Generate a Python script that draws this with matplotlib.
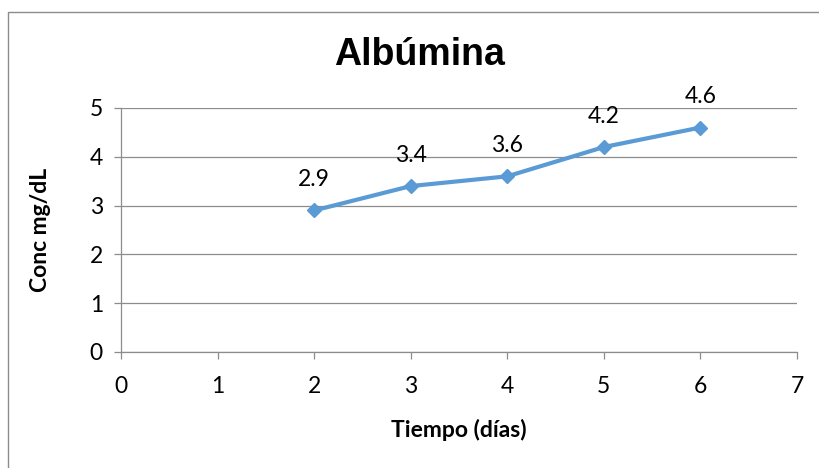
import matplotlib
matplotlib.use("Agg")
import matplotlib.pyplot as plt
from matplotlib.patches import Rectangle

dias = [2, 3, 4, 5, 6]
conc = [2.9, 3.4, 3.6, 4.2, 4.6]
xticks = [0, 1, 2, 3, 4, 5, 6, 7]
yticks = [0, 1, 2, 3, 4, 5]

plt.rcParams['font.family'] = ['Lato', 'DejaVu Sans']

fig = plt.figure(figsize=(8.19, 4.68), dpi=100)
fig.patch.set_facecolor('white')
ax = fig.add_axes([121/819, 1-352/468, (797-121)/819, (352-108)/468])

# outer border
fig.add_artist(Rectangle((8/819, -0.01), 1.0, 1-12/468+0.01, transform=fig.transFigure,
                         fill=False, edgecolor='#8c8c8c', linewidth=1.0))

ax.set_xlim(0, 7)
ax.set_ylim(0, 5)
ax.set_xticks(xticks)
ax.set_yticks(yticks)
ax.grid(axis='y', color='#8c8c8c', linewidth=0.9)
ax.set_axisbelow(True)
for s in ['top', 'right']:
    ax.spines[s].set_visible(False)
for s in ['left', 'bottom']:
    ax.spines[s].set_color('#8c8c8c')
    ax.spines[s].set_linewidth(0.9)
ax.tick_params(axis='both', colors='#8c8c8c', length=5, width=0.9, labelsize=16.5,
               labelcolor='black', direction='out')
ax.tick_params(axis='x', pad=12)
ax.tick_params(axis='y', pad=8)

ax.plot(dias, conc, color='#5b9bd5', linewidth=3, marker='D', markersize=7.5,
        markerfacecolor='#5b9bd5', markeredgecolor='#5b9bd5', clip_on=False, zorder=3)
for x, y in zip(dias, conc):
    ax.annotate(f"{y}", (x, y), textcoords='offset points', xytext=(0, 22),
                ha='center', va='center', fontsize=16.5)

fig.text(420/819, 1-55/468, "Albúmina", ha='center', va='center', fontsize=27,
         fontweight='bold', family=['Liberation Sans', 'DejaVu Sans'])
ax.set_xlabel("Tiempo (días)", fontsize=16.5, fontweight='bold', labelpad=16)
ax.set_ylabel("Conc mg/dL", fontsize=16.5, fontweight='bold', labelpad=28)

fig.savefig("out.png", dpi=100, facecolor='white')
